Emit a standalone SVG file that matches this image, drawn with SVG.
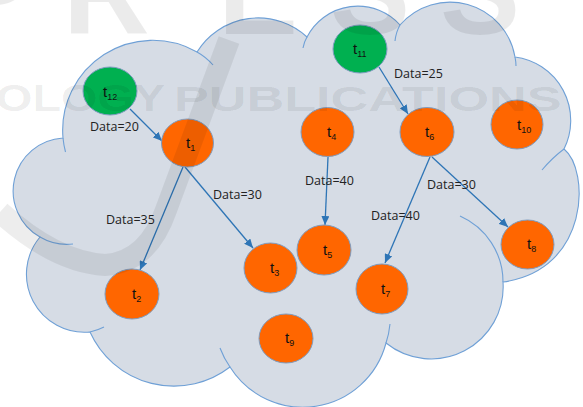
<svg xmlns="http://www.w3.org/2000/svg" width="583" height="407" viewBox="0 0 583 407">
<style>
.cloud{fill:#d6dce5;stroke:#6fa0d6;stroke-width:1.1}
.tick{fill:none;stroke:#6fa0d6;stroke-width:1.1}
.or{fill:#ff6600;stroke:#7e9cc0;stroke-width:1}
.gr{fill:#00b050;stroke:#7e9cc0;stroke-width:1}
.lbl{font-family:"Liberation Sans",Arial,sans-serif;font-size:15px;fill:#111}
.sub{font-size:9px}
.dl{font-family:"Open Sans","Liberation Sans",sans-serif;font-size:12.5px;fill:#222}
.edge{stroke:#2e75b6;stroke-width:1.3;fill:none;marker-end:url(#ah)}
.wm{font-family:"Liberation Sans",Arial,sans-serif;font-weight:bold;fill:#000;fill-opacity:0.08}
</style>
<defs>
<marker id="ah" markerUnits="userSpaceOnUse" markerWidth="10" markerHeight="8" refX="9" refY="4" orient="auto">
<path d="M0,0 L9,4 L0,8 z" fill="#2e75b6"/>
</marker>
</defs>
<g id="cloud">
<path class="cloud" d="M63,138 A90,90 0 0 1 197,52 A72,72 0 0 1 307,37 A57,57 0 0 1 400,25 A66,66 0 0 1 515,57 A64,64 0 0 1 564,149 C590,170 590,270 503,282 A72,72 0 0 1 386,343 A86,86 0 0 1 230,367 A92,92 0 0 1 90,332 A58,58 0 0 1 40,237 A53,53 0 0 1 63,138 Z"/>
<path class="tick" d="M63,138 A90,90 0 0 0 65.5,152 M40,237 A53,53 0 0 0 73,244 M90,332 A58,58 0 0 0 104,327 M230,367 A86,86 0 0 1 220,348 M386,343 A86,86 0 0 0 390,324 M460,216 A72,72 0 0 1 503,282 M564,149 Q552,158 542,170 M515,57 Q516,62 516,66 M400,25 Q396,32 395,41 M307,37 Q304,42 303,48 M197,52 Q206,57 213,65"/>
</g>
<g id="connectors">
<line class="edge" x1="130" y1="109" x2="162" y2="141"/>
<line class="edge" x1="183" y1="167" x2="140" y2="270"/>
<line class="edge" x1="185" y1="167" x2="253" y2="248"/>
<line class="edge" x1="328" y1="157" x2="325" y2="225"/>
<line class="edge" x1="379" y1="67" x2="408" y2="114"/>
<line class="edge" x1="430" y1="157" x2="385" y2="263"/>
<line class="edge" x1="432" y1="157" x2="508" y2="227"/>
</g>
<g id="edge-labels">
<text class="dl" x="90" y="131">Data=20</text>
<text class="dl" x="213" y="199">Data=30</text>
<text class="dl" x="106" y="224">Data=35</text>
<text class="dl" x="305" y="185">Data=40</text>
<text class="dl" x="371" y="220">Data=40</text>
<text class="dl" x="427" y="189">Data=30</text>
<text class="dl" x="394" y="78">Data=25</text>
</g>
<g id="t12"><ellipse class="gr" cx="110" cy="91" rx="27" ry="24"/><text class="lbl" x="103" y="97">t<tspan class="sub" dy="3">12</tspan></text></g>
<g id="t11"><ellipse class="gr" cx="360" cy="49" rx="27" ry="24"/><text class="lbl" x="353" y="54">t<tspan class="sub" dy="3">11</tspan></text></g>
<g id="t1"><ellipse class="or" cx="187.5" cy="143" rx="26" ry="24"/><text class="lbl" x="186" y="148">t<tspan class="sub" dy="3">1</tspan></text></g>
<g id="t2"><ellipse class="or" cx="132" cy="294" rx="27" ry="25"/><text class="lbl" x="132" y="299">t<tspan class="sub" dy="3">2</tspan></text></g>
<g id="t3"><ellipse class="or" cx="270.5" cy="268" rx="26.5" ry="25"/><text class="lbl" x="270" y="273">t<tspan class="sub" dy="3">3</tspan></text></g>
<g id="t4"><ellipse class="or" cx="327.5" cy="132" rx="26.5" ry="24.5"/><text class="lbl" x="327" y="137">t<tspan class="sub" dy="3">4</tspan></text></g>
<g id="t5"><ellipse class="or" cx="324" cy="250" rx="27" ry="25"/><text class="lbl" x="323" y="255">t<tspan class="sub" dy="3">5</tspan></text></g>
<g id="t6"><ellipse class="or" cx="427" cy="132" rx="27" ry="24.5"/><text class="lbl" x="425" y="137">t<tspan class="sub" dy="3">6</tspan></text></g>
<g id="t7"><ellipse class="or" cx="382" cy="289" rx="26" ry="25"/><text class="lbl" x="381" y="294">t<tspan class="sub" dy="3">7</tspan></text></g>
<g id="t8"><ellipse class="or" cx="527.5" cy="244.5" rx="26.5" ry="24.5"/><text class="lbl" x="527" y="249">t<tspan class="sub" dy="3">8</tspan></text></g>
<g id="t9"><ellipse class="or" cx="286" cy="338.5" rx="27" ry="24.5"/><text class="lbl" x="285" y="343">t<tspan class="sub" dy="3">9</tspan></text></g>
<g id="t10"><ellipse class="or" cx="517" cy="124.5" rx="26" ry="24.5"/><text class="lbl" x="517" y="130">t<tspan class="sub" dy="3">10</tspan></text></g>
<g id="watermark">
<text class="wm" x="-50 63 218 330 440" y="34" font-size="120">PRESS</text>
<text class="wm" transform="translate(-4,111) scale(1.3,1)" x="0" y="0" font-size="36">OLOGY</text>
<text class="wm" transform="translate(174,111) scale(1.45,1)" x="0" y="0" font-size="36">PUBLICATIONS</text>
<path d="M229,40 L166,210 Q148,262 105,265 Q55,262 0,212" fill="none" stroke="#000" stroke-opacity="0.07" stroke-width="22"/>
</g>
</svg>
